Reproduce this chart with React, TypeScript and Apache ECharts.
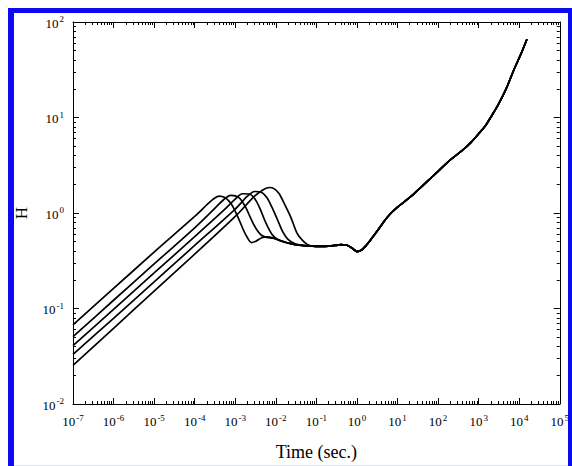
import React, { useEffect, useRef } from "react";
import * as echarts from "echarts";

// ---- data ----
const c1T = [1e-7, 1e-6, 1e-5, 1e-4, 2e-4, 3e-4, 4.1e-4, 5.5e-4, 7e-4, 8.6e-4, 1.2e-3, 1.6e-3, 2e-3, 2.5e-3, 3.3e-3, 4.5e-3, 6.2e-3, 8.5e-3, 1.2e-2, 2e-2, 3e-2];
const c1H = [0.0675, 0.162, 0.39, 0.92, 1.22, 1.42, 1.5, 1.45, 1.33, 1.18, 0.88, 0.66, 0.55, 0.49, 0.51, 0.55, 0.563, 0.55, 0.52, 0.485, 0.467];

const c2T = [1e-7, 1e-6, 1e-5, 1e-4, 3e-4, 5e-4, 7.7e-4, 1e-3, 1.3e-3, 1.8e-3, 2.5e-3, 3.3e-3, 4.4e-3, 6e-3, 8.5e-3, 1.2e-2, 2e-2, 3e-2];
const c2H = [0.0507, 0.122, 0.293, 0.7, 1.1, 1.36, 1.53, 1.51, 1.42, 1.15, 0.85, 0.68, 0.585, 0.555, 0.545, 0.52, 0.485, 0.467];

const c3T = [1e-7, 1e-6, 1e-5, 1e-4, 5e-4, 1e-3, 1.5e-3, 2.2e-3, 3e-3, 4e-3, 5.6e-3, 8e-3, 1.1e-2, 1.5e-2, 2e-2, 3e-2];
const c3H = [0.0408, 0.098, 0.236, 0.565, 1.05, 1.4, 1.59, 1.58, 1.42, 1.13, 0.8, 0.6, 0.53, 0.5, 0.485, 0.467];

const c4T = [1e-7, 1e-6, 1e-5, 1e-4, 1e-3, 2e-3, 3e-3, 4.4e-3, 6e-3, 8e-3, 1.1e-2, 1.5e-2, 2e-2, 3e-2];
const c4H = [0.033, 0.079, 0.19, 0.457, 1.1, 1.5, 1.68, 1.65, 1.45, 1.15, 0.85, 0.63, 0.53, 0.475];

const c5T = [1e-7, 1e-6, 1e-5, 1e-4, 1e-3, 3e-3, 5e-3, 6.9e-3, 9e-3, 1.2e-2, 1.7e-2, 2.4e-2, 3.3e-2, 4.5e-2, 6e-2];
const c5H = [0.0254, 0.062, 0.152, 0.37, 0.92, 1.5, 1.76, 1.85, 1.8, 1.6, 1.2, 0.88, 0.62, 0.52, 0.468];

// shared late-time part of all curves
const tailT = [0.05, 0.08, 0.12, 0.2, 0.3, 0.4, 0.55, 0.75, 1.0, 1.3, 1.7, 2.3, 3.2, 4.5, 6.5, 10, 16, 25, 40, 65, 106, 200, 389, 650, 1000, 1500, 2000, 3000, 4700, 7500, 11000, 15500];
const tailH = [0.455, 0.45, 0.448, 0.45, 0.458, 0.466, 0.462, 0.43, 0.395, 0.41, 0.46, 0.54, 0.65, 0.8, 0.97, 1.15, 1.35, 1.58, 1.9, 2.3, 2.8, 3.6, 4.5, 5.5, 6.75, 8.3, 10.1, 13.5, 19.7, 32, 46, 66];

const curves = [
  { t: c1T, h: c1H },
  { t: c2T, h: c2H },
  { t: c3T, h: c3H },
  { t: c4T, h: c4H },
  { t: c5T, h: c5H },
];

const X_MIN = 1e-7;
const X_MAX = 1e5;
const Y_MIN = 1e-2;
const Y_MAX = 1e2;

const FONT = '"Liberation Serif", "Times New Roman", serif';

function buildData(t: number[], h: number[]) {
  const pts: number[][] = t.map((v, i) => [v, h[i]]);
  const last = t[t.length - 1];
  tailT.forEach((v, i) => {
    if (v > last * 1.05) pts.push([v, tailH[i]]);
  });
  return pts;
}

const labelFmt = (v: number) => {
  const e = Math.round(Math.log10(v));
  return `{b|10}{s|${e}}`;
};

const rich = {
  b: { fontSize: 13, fontFamily: FONT, color: "#000", lineHeight: 15, verticalAlign: "bottom" },
  s: { fontSize: 9, fontFamily: FONT, color: "#000", lineHeight: 15, verticalAlign: "top", padding: [0, 0, 0, 1] },
};

export default function App() {
  const ref = useRef<HTMLDivElement>(null);
  useEffect(() => {
    if (!ref.current) return;
    const chart = echarts.init(ref.current, undefined, { renderer: "svg" });
    const axisLine = { show: true, lineStyle: { color: "#000", width: 1 } };
    const tick = { show: true, inside: true, length: 6, lineStyle: { color: "#000", width: 1 } };
    const minor = { show: true, splitNumber: 9, length: 3, lineStyle: { color: "#000", width: 1 } };
    const xBase = {
      type: "log",
      logBase: 10,
      min: X_MIN,
      max: X_MAX,
      interval: 1,
      axisLine,
      axisTick: tick,
      minorTick: minor,
      splitLine: { show: false },
      minorSplitLine: { show: false },
    };
    const yBase = {
      type: "log",
      logBase: 10,
      min: Y_MIN,
      max: Y_MAX,
      interval: 1,
      axisLine,
      axisTick: tick,
      minorTick: minor,
      splitLine: { show: false },
      minorSplitLine: { show: false },
    };
    chart.setOption({
      animation: false,
      backgroundColor: "#fff",
      grid: { left: 73, right: 11, top: 22, bottom: 58, containLabel: false },
      xAxis: [
        {
          ...xBase,
          position: "bottom",
          axisLabel: { formatter: labelFmt, rich, margin: 9, color: "#000" },
          name: "Time (sec.)",
          nameLocation: "middle",
          nameGap: 39,
          nameTextStyle: { fontFamily: FONT, fontSize: 18, color: "#000" },
        },
        { ...xBase, position: "top", axisLabel: { show: false } },
      ],
      yAxis: [
        {
          ...yBase,
          position: "left",
          axisLabel: { formatter: labelFmt, rich, margin: 9, color: "#000" },
          name: "H",
          nameLocation: "middle",
          nameGap: 43,
          nameTextStyle: { fontFamily: FONT, fontSize: 17, color: "#000" },
        },
        { ...yBase, position: "right", axisLabel: { show: false } },
      ],
      graphic: [
        { type: "rect", shape: { x: 8, y: 8, width: 6, height: 458 }, style: { fill: "#0b0bf0" }, silent: true },
        { type: "rect", shape: { x: 8, y: 8, width: 564, height: 5 }, style: { fill: "#0b0bf0" }, silent: true },
        { type: "rect", shape: { x: 568, y: 8, width: 4, height: 458 }, style: { fill: "#0b0bf0" }, silent: true },
        { type: "rect", shape: { x: 14, y: 465, width: 554, height: 1 }, style: { fill: "#e4e4ee" }, silent: true },
      ],
      series: curves.map((c) => ({
        type: "line",
        data: buildData(c.t, c.h),
        showSymbol: false,
        symbol: "none",
        smooth: 0.3,
        lineStyle: { color: "#000", width: 1.7 },
        silent: true,
      })),
    });
    return () => chart.dispose();
  }, []);
  return (
    <div
      ref={ref}
      style={{ position: "fixed", left: 0, top: 0, width: 572, height: 466 }}
    />
  );
}
